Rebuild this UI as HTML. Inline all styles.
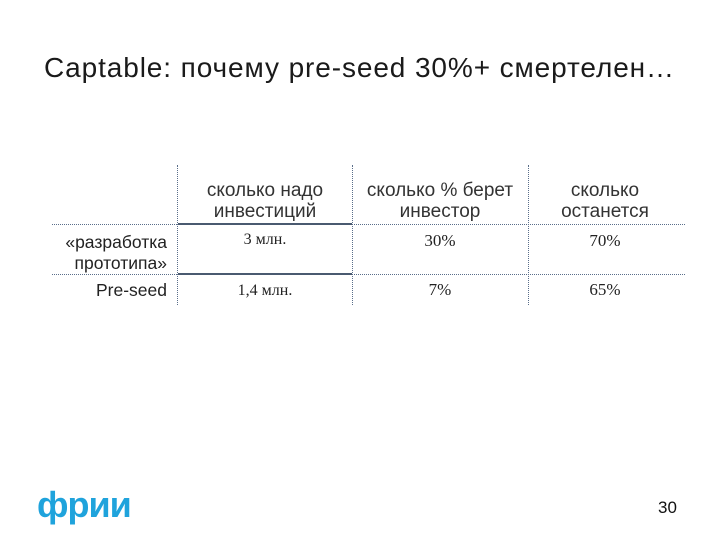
<!DOCTYPE html>
<html><head><meta charset="utf-8"><style>
body{margin:0;width:720px;height:540px;background:#fff;position:relative;overflow:hidden;font-family:"Liberation Sans","DejaVu Sans",sans-serif;color:#222}
.a{position:absolute}
.h{font-size:19px;color:#333;text-align:center;line-height:21px}
.c{font-size:17px;color:#222;text-align:center;font-family:"Liberation Serif",serif}
.l{font-size:17.5px;color:#222;text-align:right}
.hl{position:absolute;left:52px;width:633px;border-top:1.5px dotted #5a6e8a;height:0}
.vl{position:absolute;top:165px;height:140px;border-left:1.5px dotted #5a6e8a;width:0}
</style></head><body>
<div class="a" style="left:44px;top:52px;font-size:28px;letter-spacing:0.9px;color:#1a1a1a;white-space:nowrap">Captable: почему pre-seed 30%+ смертелен…</div>
<div class="vl" style="left:177px"></div>
<div class="vl" style="left:352px"></div>
<div class="vl" style="left:528px"></div>
<div class="hl" style="top:224px"></div>
<div class="hl" style="top:274px"></div>
<div class="a" style="left:178px;top:223px;width:174px;border-top:2px solid #4a5a70"></div>
<div class="a" style="left:178px;top:273px;width:174px;border-top:2px solid #4a5a70"></div>
<div class="a h" style="left:180px;top:180px;width:170px">сколько надо<br>инвестиций</div>
<div class="a h" style="left:352px;top:180px;width:176px">сколько % берет<br>инвестор</div>
<div class="a h" style="left:530px;top:180px;width:150px">сколько<br>останется</div>
<div class="a l" style="left:30px;top:232px;width:137px;line-height:21px">«разработка<br>прототипа»</div>
<div class="a c" style="left:180px;top:231px;width:170px;font-size:16px">3 млн.</div>
<div class="a c" style="left:355px;top:231px;width:170px">30%</div>
<div class="a c" style="left:530px;top:231px;width:150px">70%</div>
<div class="a l" style="left:30px;top:280px;width:137px">Pre-seed</div>
<div class="a c" style="left:180px;top:282px;width:170px;font-size:16px">1,4 млн.</div>
<div class="a c" style="left:355px;top:280px;width:170px">7%</div>
<div class="a c" style="left:530px;top:280px;width:150px">65%</div>
<div class="a" style="left:37px;top:484px;font-size:36px;font-weight:bold;color:#1fa3dc;letter-spacing:-1px">фрии</div>
<div class="a" style="left:658px;top:498px;font-size:17px;color:#111">30</div>
</body></html>
